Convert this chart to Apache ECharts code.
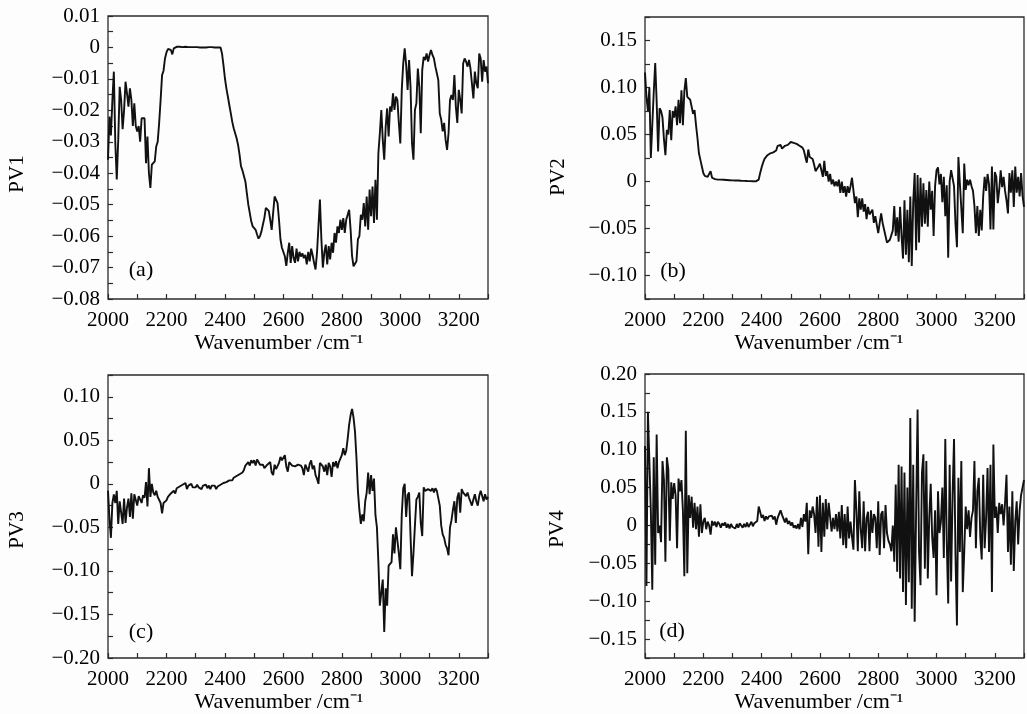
<!DOCTYPE html>
<html>
<head>
<meta charset="utf-8">
<title>PV1–PV4 loadings</title>
<script src="https://cdn.jsdelivr.net/npm/echarts@6/dist/echarts.min.js"></script>
<style>
  html, body { margin: 0; padding: 0; background: #fdfdfd; }
  #chart { width: 1027px; height: 714px; }
</style>
</head>
<body>
<div id="chart"></div>
<script>
// Wavenumber grid (cm^-1), one sample every 5 cm^-1
const wavenumbers = [
  2000,2005,2010,2015,2020,2025,2030,2035,2040,2045,2050,2055,2060,2065,2070,2075,2080,2085,2090,2095,
  2100,2105,2110,2115,2120,2125,2130,2135,2140,2145,2150,2155,2160,2165,2170,2175,2180,2185,2190,2195,
  2200,2205,2210,2215,2220,2225,2230,2235,2240,2245,2250,2255,2260,2265,2270,2275,2280,2285,2290,2295,
  2300,2305,2310,2315,2320,2325,2330,2335,2340,2345,2350,2355,2360,2365,2370,2375,2380,2385,2390,2395,
  2400,2405,2410,2415,2420,2425,2430,2435,2440,2445,2450,2455,2460,2465,2470,2475,2480,2485,2490,2495,
  2500,2505,2510,2515,2520,2525,2530,2535,2540,2545,2550,2555,2560,2565,2570,2575,2580,2585,2590,2595,
  2600,2605,2610,2615,2620,2625,2630,2635,2640,2645,2650,2655,2660,2665,2670,2675,2680,2685,2690,2695,
  2700,2705,2710,2715,2720,2725,2730,2735,2740,2745,2750,2755,2760,2765,2770,2775,2780,2785,2790,2795,
  2800,2805,2810,2815,2820,2825,2830,2835,2840,2845,2850,2855,2860,2865,2870,2875,2880,2885,2890,2895,
  2900,2905,2910,2915,2920,2925,2930,2935,2940,2945,2950,2955,2960,2965,2970,2975,2980,2985,2990,2995,
  3000,3005,3010,3015,3020,3025,3030,3035,3040,3045,3050,3055,3060,3065,3070,3075,3080,3085,3090,3095,
  3100,3105,3110,3115,3120,3125,3130,3135,3140,3145,3150,3155,3160,3165,3170,3175,3180,3185,3190,3195,
  3200,3205,3210,3215,3220,3225,3230,3235,3240,3245,3250,3255,3260,3265,3270,3275,3280,3285,3290,3295,
  3300
];

const pv1 = [
  -0.0357,-0.0220,-0.0280,-0.0167,-0.0077,-0.0304,-0.0420,-0.0294,-0.0125,-0.0167,-0.0260,-0.0200,-0.0109,-0.0146,-0.0188,-0.0130,-0.0167,-0.0250,-0.0178,-0.0250,
  -0.0267,-0.0250,-0.0300,-0.0225,-0.0220,-0.0225,-0.0368,-0.0283,-0.0400,-0.0447,-0.0373,-0.0373,-0.0362,-0.0315,-0.0300,-0.0240,-0.0167,-0.0088,-0.0074,-0.0035,
  -0.0016,-0.0005,-0.0003,-0.0008,-0.0022,-0.0003,0.0001,0.0002,0.0001,0.0002,0.0002,0.0001,0.0002,0.0002,0.0001,0.0001,0.0002,0.0001,0.0001,0.0001,
  0.0001,0.0001,0.0001,0.0000,0.0001,0.0000,-0.0002,0.0000,-0.0002,0.0001,0.0000,0.0001,0.0001,0.0000,0.0001,0.0000,0.0000,0.0000,-0.0019,-0.0056,
  -0.0098,-0.0130,-0.0156,-0.0183,-0.0209,-0.0236,-0.0257,-0.0273,-0.0289,-0.0310,-0.0341,-0.0378,-0.0391,-0.0394,-0.0426,-0.0463,-0.0500,-0.0526,-0.0553,-0.0569,
  -0.0574,-0.0580,-0.0595,-0.0608,-0.0600,-0.0585,-0.0563,-0.0542,-0.0510,-0.0505,-0.0520,-0.0548,-0.0580,-0.0526,-0.0474,-0.0471,-0.0495,-0.0548,-0.0610,-0.0637,
  -0.0637,-0.0664,-0.0695,-0.0653,-0.0621,-0.0685,-0.0632,-0.0670,-0.0685,-0.0640,-0.0680,-0.0650,-0.0665,-0.0655,-0.0670,-0.0660,-0.0690,-0.0650,-0.0680,-0.0640,
  -0.0660,-0.0685,-0.0706,-0.0653,-0.0569,-0.0484,-0.0610,-0.0700,-0.0653,-0.0627,-0.0690,-0.0632,-0.0674,-0.0621,-0.0653,-0.0590,-0.0621,-0.0569,-0.0590,-0.0548,
  -0.0580,-0.0543,-0.0590,-0.0548,-0.0532,-0.0516,-0.0580,-0.0664,-0.0696,-0.0700,-0.0680,-0.0610,-0.0600,-0.0532,-0.0548,-0.0495,-0.0569,-0.0474,-0.0580,-0.0452,
  -0.0537,-0.0442,-0.0558,-0.0421,-0.0548,-0.0336,-0.0273,-0.0199,-0.0294,-0.0357,-0.0252,-0.0194,-0.0283,-0.0188,-0.0204,-0.0146,-0.0199,-0.0156,-0.0167,-0.0240,
  -0.0305,-0.0135,-0.0051,-0.0003,-0.0056,-0.0135,-0.0040,-0.0125,-0.0305,-0.0357,-0.0199,-0.0178,-0.0067,-0.0125,-0.0273,-0.0072,-0.0030,-0.0040,-0.0019,-0.0045,
  -0.0024,-0.0008,-0.0024,-0.0035,-0.0061,-0.0082,-0.0104,-0.0210,-0.0230,-0.0267,-0.0240,-0.0294,-0.0326,-0.0273,-0.0167,-0.0151,-0.0167,-0.0088,-0.0188,-0.0240,
  -0.0135,-0.0167,-0.0210,-0.0051,-0.0035,-0.0045,-0.0061,-0.0040,-0.0067,-0.0061,-0.0162,-0.0077,-0.0114,-0.0130,-0.0019,-0.0035,-0.0109,-0.0040,-0.0077,-0.0061,
  -0.0114
];

const pv2 = [
  0.116,0.090,0.075,0.100,0.025,0.060,0.095,0.126,0.085,0.032,0.078,0.075,0.068,0.045,0.028,0.055,0.050,0.076,0.044,0.075,
  0.068,0.080,0.060,0.087,0.062,0.097,0.060,0.096,0.110,0.090,0.090,0.087,0.088,0.072,0.076,0.060,0.046,0.030,0.023,0.016,
  0.009,0.006,0.005,0.005,0.004,0.011,0.004,0.003,0.0025,0.002,0.002,0.002,0.002,0.0018,0.0018,0.0016,0.0016,0.0015,0.0014,0.0013,
  0.0012,0.0012,0.0011,0.0010,0.0010,0.0009,0.0008,0.0008,0.0007,0.0006,0.0005,0.0005,0.0004,0.0003,0.0003,0.0002,0.0001,0.0000,0.0020,0.0090,
  0.015,0.020,0.024,0.026,0.028,0.029,0.030,0.030,0.031,0.032,0.033,0.038,0.037,0.039,0.035,0.036,0.038,0.040,0.039,0.041,
  0.042,0.043,0.041,0.043,0.040,0.041,0.038,0.039,0.036,0.033,0.026,0.020,0.034,0.026,0.028,0.024,0.018,0.011,0.013,0.016,
  0.019,0.012,0.005,0.022,0.006,0.011,0.000,0.008,-0.003,0.002,-0.005,0.000,-0.005,0.002,-0.012,0.000,-0.012,-0.005,-0.016,-0.005,
  -0.012,-0.005,0.004,0.003,-0.023,-0.016,-0.038,-0.018,-0.030,-0.018,-0.032,-0.024,-0.040,-0.027,-0.035,-0.036,-0.030,-0.044,-0.037,-0.038,
  -0.055,-0.044,-0.034,-0.044,-0.051,-0.058,-0.065,-0.067,-0.062,-0.062,-0.052,-0.026,-0.058,-0.038,-0.064,-0.027,-0.058,-0.082,-0.020,-0.078,
  -0.030,-0.086,-0.016,-0.090,-0.022,0.009,-0.073,0.007,-0.065,0.004,-0.048,-0.002,-0.045,-0.009,-0.048,0.000,-0.030,-0.010,-0.058,-0.005,
  0.012,0.015,-0.003,0.008,-0.022,0.005,-0.037,-0.004,-0.081,0.000,0.012,0.014,-0.005,-0.045,-0.070,0.026,-0.002,-0.002,-0.055,0.019,
  -0.009,0.002,-0.004,0.002,-0.005,-0.010,-0.026,-0.055,-0.026,-0.058,-0.030,-0.052,-0.016,0.005,-0.010,0.008,-0.003,-0.051,0.016,-0.051,
  0.010,0.005,-0.023,-0.009,0.012,-0.006,0.005,-0.010,-0.020,-0.034,0.009,-0.012,0.012,-0.027,0.016,-0.012,0.005,-0.016,0.009,-0.015,
  -0.027
];

const pv3 = [
  -0.008,-0.040,-0.062,-0.022,-0.012,-0.022,-0.008,-0.046,-0.020,-0.018,-0.046,-0.017,-0.045,-0.027,-0.017,-0.038,-0.011,-0.040,-0.012,-0.012,
  -0.025,-0.014,-0.012,-0.022,-0.013,-0.016,0.002,-0.026,0.018,-0.015,0.000,-0.010,-0.013,-0.008,-0.015,-0.017,-0.022,-0.034,-0.022,-0.020,
  -0.019,-0.015,-0.014,-0.011,-0.010,-0.008,-0.011,-0.005,-0.006,-0.003,-0.004,-0.001,-0.001,0.001,-0.006,-0.002,-0.004,0.000,-0.004,-0.003,
  -0.004,-0.001,-0.004,-0.002,-0.006,-0.002,-0.004,-0.001,-0.005,-0.002,-0.006,-0.002,-0.004,-0.002,-0.006,-0.003,-0.001,-0.001,0.000,0.001,
  0.002,0.002,0.004,0.004,0.005,0.004,0.007,0.008,0.009,0.010,0.011,0.010,0.013,0.016,0.021,0.023,0.025,0.021,0.027,0.024,
  0.027,0.021,0.028,0.025,0.022,0.020,0.022,0.018,0.019,0.022,0.024,0.025,0.013,0.010,0.022,0.017,0.015,0.024,0.031,0.027,
  0.028,0.033,0.020,0.014,0.025,0.025,0.021,0.023,0.020,0.021,0.022,0.020,0.021,0.018,0.010,0.022,0.018,0.014,0.023,0.027,
  0.017,0.021,0.010,0.006,0.000,0.024,0.026,0.020,0.014,0.022,0.010,0.024,0.020,0.008,0.025,0.020,0.026,0.018,0.025,0.027,
  0.033,0.041,0.033,0.038,0.052,0.068,0.079,0.086,0.076,0.060,0.030,-0.008,-0.030,-0.046,-0.035,-0.043,-0.020,-0.010,0.013,-0.012,
  0.010,-0.008,0.006,-0.036,-0.050,-0.090,-0.140,-0.138,-0.110,-0.170,-0.120,-0.140,-0.094,-0.096,-0.090,-0.058,-0.080,-0.050,-0.052,-0.080,
  -0.098,-0.035,-0.005,0.000,-0.038,-0.013,-0.010,-0.060,-0.106,-0.080,-0.048,-0.018,-0.015,-0.010,-0.045,-0.060,-0.004,-0.008,-0.006,-0.006,
  -0.008,-0.008,-0.005,-0.010,-0.005,-0.008,-0.006,-0.025,-0.048,-0.058,-0.062,-0.070,-0.074,-0.082,-0.050,-0.042,-0.030,-0.020,-0.045,-0.016,
  -0.010,-0.033,-0.006,-0.010,-0.012,-0.014,-0.010,-0.016,-0.014,-0.025,-0.018,-0.012,-0.020,-0.025,-0.014,-0.008,-0.014,-0.020,-0.012,-0.018,
  -0.015
];

const pv4 = [
  0.105,-0.080,0.150,0.150,0.020,-0.085,0.090,-0.052,0.120,-0.010,0.000,-0.022,0.085,0.060,-0.048,0.090,0.074,-0.020,0.057,0.035,
  0.056,0.040,-0.030,0.062,0.045,0.060,0.020,-0.067,0.125,-0.063,0.040,0.010,0.038,-0.003,0.030,-0.005,0.025,-0.015,0.028,-0.010,
  0.005,0.010,-0.005,0.005,0.000,-0.012,0.006,0.000,0.005,-0.002,0.005,0.002,-0.003,0.003,0.000,0.004,-0.003,0.002,-0.004,0.002,
  -0.002,0.000,-0.004,0.002,-0.003,0.003,0.000,-0.003,0.002,-0.002,0.004,-0.002,0.000,0.005,-0.001,0.003,0.002,0.006,0.025,0.018,
  0.010,0.014,0.006,0.012,0.008,0.012,0.010,0.013,0.008,0.012,0.001,0.010,0.008,0.020,0.014,0.012,0.004,0.010,0.002,0.006,
  0.000,0.004,-0.003,0.000,-0.004,0.002,-0.005,0.010,-0.002,0.015,0.005,0.030,-0.038,0.020,0.010,0.025,0.015,-0.010,0.038,-0.028,
  0.040,-0.035,0.030,-0.015,0.035,-0.005,0.030,0.032,-0.008,0.010,-0.005,0.015,-0.008,0.018,-0.017,0.027,-0.026,0.015,-0.030,0.025,
  -0.017,0.005,-0.015,-0.032,0.060,0.020,-0.034,0.045,-0.005,-0.030,0.032,-0.034,0.010,0.018,-0.034,0.020,-0.010,0.015,0.010,-0.030,
  0.032,-0.039,0.015,0.019,-0.030,0.027,-0.010,-0.020,-0.025,-0.034,0.000,-0.048,0.054,-0.061,0.080,-0.070,0.078,-0.088,0.070,-0.105,
  0.050,-0.075,0.142,-0.110,0.080,-0.127,0.020,0.153,-0.035,-0.079,0.070,0.094,-0.057,0.085,-0.070,0.010,0.055,-0.015,-0.043,0.020,
  -0.092,0.045,-0.010,0.005,0.050,-0.043,0.114,-0.020,-0.103,0.080,-0.074,0.040,0.114,-0.040,-0.132,0.063,-0.035,0.085,-0.088,-0.035,
  0.025,-0.005,0.020,-0.015,0.010,0.020,0.085,-0.030,0.045,0.063,-0.015,-0.045,0.067,-0.030,0.010,0.076,-0.035,0.080,-0.088,0.107,
  0.010,0.025,-0.010,0.030,0.015,0.028,0.000,0.030,0.067,-0.035,0.025,-0.052,0.045,-0.060,0.005,0.032,-0.025,0.020,0.040,0.050,
  0.060
];

// Axis ranges
const xRange = { min: 2000, max: 3300, tick: 100, labelStep: 200 };
const yRanges = [
  { min: -0.08,  max: 0.01,  tick: 0.005, labelStep: 0.01 },
  { min: -0.125, max: 0.175, tick: 0.025, labelStep: 0.05 },
  { min: -0.20,  max: 0.125, tick: 0.025, labelStep: 0.05 },
  { min: -0.175, max: 0.20,  tick: 0.025, labelStep: 0.05 }
];
const yNames = ['PV1', 'PV2', 'PV3', 'PV4'];
const panelTags = ['(a)', '(b)', '(c)', '(d)'];
const xName = 'Wavenumber /cm\u207B\u00B9';
const seriesValues = [pv1, pv2, pv3, pv4];

const FONT = '"Liberation Serif", "Times New Roman", serif';
const INK = '#000';
const FRAME = '#2b2b2b';

const grids = [
  { left: 108, top: 16,  width: 380, height: 283 },
  { left: 645, top: 17,  width: 379, height: 282 },
  { left: 108, top: 375, width: 380, height: 283 },
  { left: 645, top: 374, width: 379, height: 284 }
];

function isStep(v, step) {
  return Math.abs(Math.round(v / step) * step - v) < 1e-7;
}
function fmtY(v, step) {
  if (!isStep(v, step)) return '';
  if (Math.abs(v) < 1e-9) return '0';
  const s = Math.abs(v).toFixed(2);
  return (v < 0 ? '\u2212' : '') + s;
}

const tickStyle = { show: true, inside: true, length: 5, lineStyle: { color: FRAME, width: 1.2 } };

const option = {
  backgroundColor: '#fdfdfd',
  animation: false,
  grid: grids.map(g => Object.assign({
    show: true, borderColor: FRAME, borderWidth: 1.3, backgroundColor: 'transparent'
  }, g)),
  xAxis: grids.map((g, i) => ({
    type: 'value', gridIndex: i, position: 'bottom',
    min: xRange.min, max: xRange.max, interval: xRange.tick,
    axisLine: { show: false, onZero: false },
    axisTick: tickStyle,
    splitLine: { show: false },
    axisLabel: {
      margin: 11, color: INK, fontFamily: FONT, fontSize: 21,
      formatter: v => (isStep(v, xRange.labelStep) && v < xRange.max) ? String(Math.round(v)) : ''
    }
  })),
  yAxis: yRanges.map((r, i) => ({
    type: 'value', gridIndex: i, position: 'left',
    min: r.min, max: r.max, interval: r.tick,
    axisLine: { show: false, onZero: false },
    axisTick: tickStyle,
    splitLine: { show: false },
    axisLabel: {
      margin: 8, color: INK, fontFamily: FONT, fontSize: 21,
      formatter: v => fmtY(v, r.labelStep)
    }
  })),
  series: seriesValues.map((vals, i) => ({
    type: 'line', xAxisIndex: i, yAxisIndex: i,
    data: wavenumbers.map((w, k) => [w, vals[k]]),
    showSymbol: false, symbol: 'none',
    lineStyle: { color: '#111', width: 1.9 },
    clip: true
  })),
  graphic: []
};

// Axis titles and panel tags
const yTitlePos = [[17, 174], [558, 177], [17, 530], [557, 529]];
const xTitlePos = [[279, 343], [819, 343], [279, 702], [819, 702]];
const tagPos = [[141, 270], [673, 271], [141, 632], [672, 631]];
for (let i = 0; i < 4; i++) {
  option.graphic.push({
    type: 'text', x: yTitlePos[i][0], y: yTitlePos[i][1], rotation: Math.PI / 2,
    style: { text: yNames[i], font: '21px ' + FONT, fill: INK, align: 'center', verticalAlign: 'middle' }
  });
  option.graphic.push({
    type: 'text', x: xTitlePos[i][0], y: xTitlePos[i][1],
    style: { text: xName, font: '22px ' + FONT, fill: INK, align: 'center', verticalAlign: 'middle' }
  });
  option.graphic.push({
    type: 'text', x: tagPos[i][0], y: tagPos[i][1],
    style: { text: panelTags[i], font: '22px ' + FONT, fill: INK, align: 'center', verticalAlign: 'middle' }
  });
}

const chart = echarts.init(document.getElementById('chart'), null, { renderer: 'canvas' });
chart.setOption(option);
</script>
</body>
</html>
